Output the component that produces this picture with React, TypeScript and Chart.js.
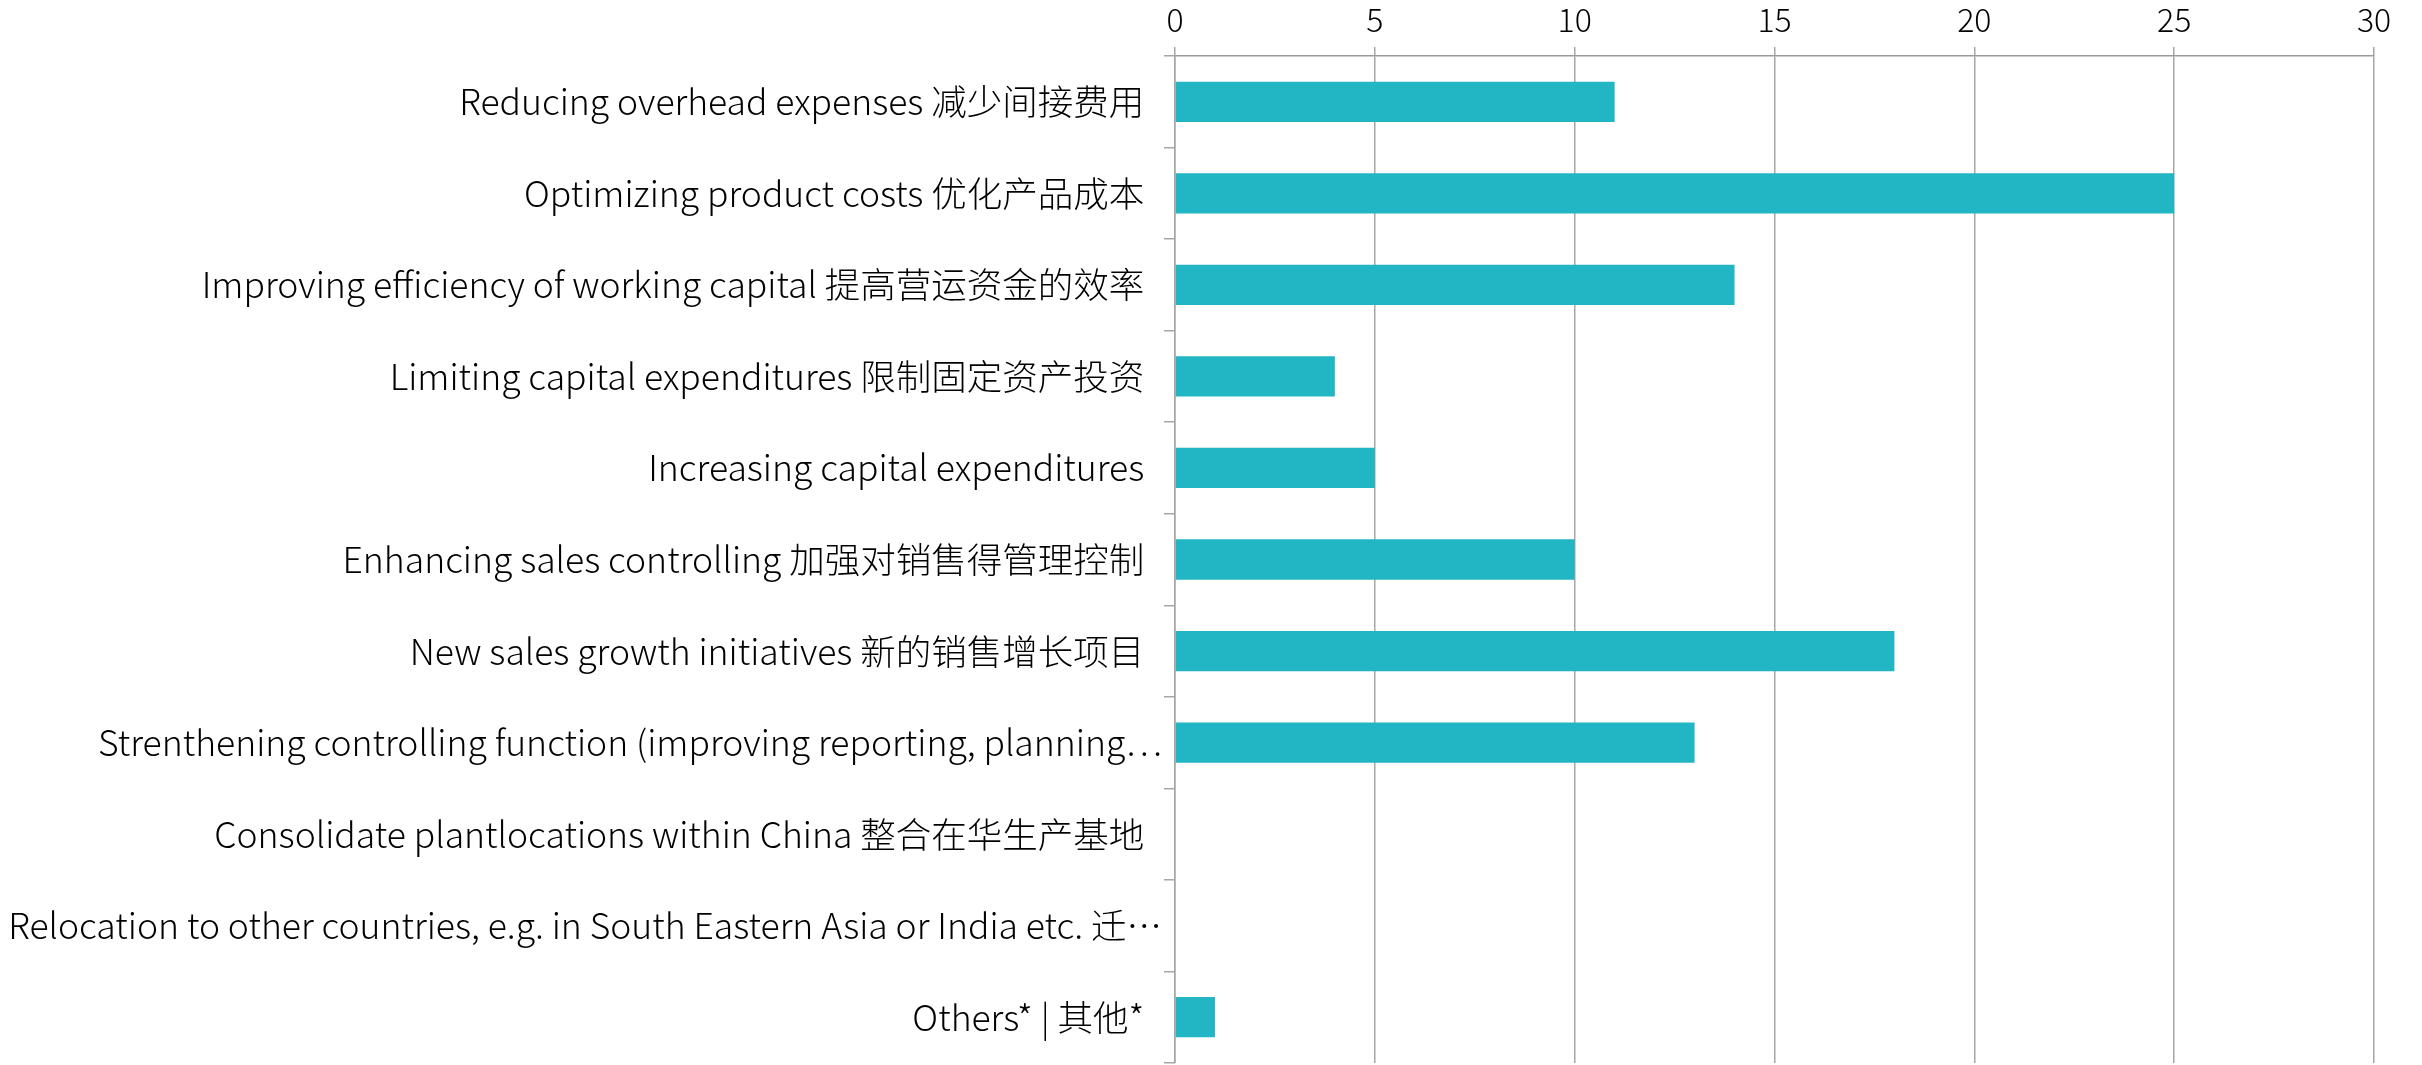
import React, { useEffect, useRef } from "react";
import { Chart, registerables } from "chart.js";

Chart.register(...registerables);

const categories: string[] = [
  "Reducing overhead expenses 减少间接费用",
  "Optimizing product costs 优化产品成本",
  "Improving efficiency of working capital 提高营运资金的效率",
  "Limiting capital expenditures 限制固定资产投资",
  "Increasing capital expenditures",
  "Enhancing sales controlling 加强对销售得管理控制",
  "New sales growth initiatives 新的销售增长项目",
  "Strenthening controlling function (improving reporting, planning…",
  "Consolidate plantlocations within China 整合在华生产基地",
  "Relocation to other countries, e.g. in South Eastern Asia or India etc. 迁…",
  "Others* | 其他*",
];

const values: number[] = [11, 25, 14, 4, 5, 10, 18, 13, 0, 0, 1];

const xMin = 0;
const xMax = 30;
const xStep = 5;

const FONT = "'Noto Sans CJK SC', 'Noto Sans', sans-serif";
const GRID = "#A6A6A6";

export default function App() {
  const ref = useRef<HTMLCanvasElement>(null);
  useEffect(() => {
    if (!ref.current) return;
    const chart = new Chart(ref.current, {
      type: "bar",
      data: {
        labels: categories,
        datasets: [
          {
            data: values,
            backgroundColor: "#22B5C4",
            borderWidth: 0,
            barPercentage: 0.44,
            categoryPercentage: 1,
          },
        ],
      },
      options: {
        indexAxis: "y",
        responsive: false,
        animation: false,
        layout: { padding: { left: 0, right: 48, top: 0, bottom: 2 } },
        plugins: { legend: { display: false }, tooltip: { enabled: false } },
        scales: {
          x: {
            position: "top",
            min: xMin,
            max: xMax,
            ticks: {
              stepSize: xStep,
              font: { size: 32, family: FONT, weight: "300" },
              color: "#000",
              padding: 8,
            },
            grid: { color: GRID, lineWidth: 1.5, tickLength: 9 },
            border: { color: "#999", width: 1.5 },
            afterFit: (s: any) => {
              s.height = 56;
              s.paddingLeft = 0;
              s.paddingRight = 0;
            },
          },
          y: {
            ticks: {
              font: { size: 35.5, family: FONT, weight: "300" },
              color: "#000",
              padding: 2,
              autoSkip: false,
              callback: function (this: any, _v: any, i: number) {
                const l = categories[i];
                return l.endsWith("…") ? l : l + "\u2002";
              },
            },
            grid: {
              drawOnChartArea: false,
              offset: true,
              tickLength: 11,
              color: GRID,
              lineWidth: 1.5,
            },
            border: { color: GRID, width: 1.5 },
            afterFit: (s: any) => {
              s.width = 1175;
              s.paddingTop = 0;
              s.paddingBottom = 0;
            },
          },
        },
      },
    });
    return () => chart.destroy();
  }, []);
  return (
    <div
      style={{
        position: "absolute",
        left: 0,
        top: 0,
        width: 2422,
        height: 1065,
        background: "#fff",
      }}
    >
      <canvas ref={ref} width={2422} height={1065} style={{ display: "block" }} />
    </div>
  );
}
